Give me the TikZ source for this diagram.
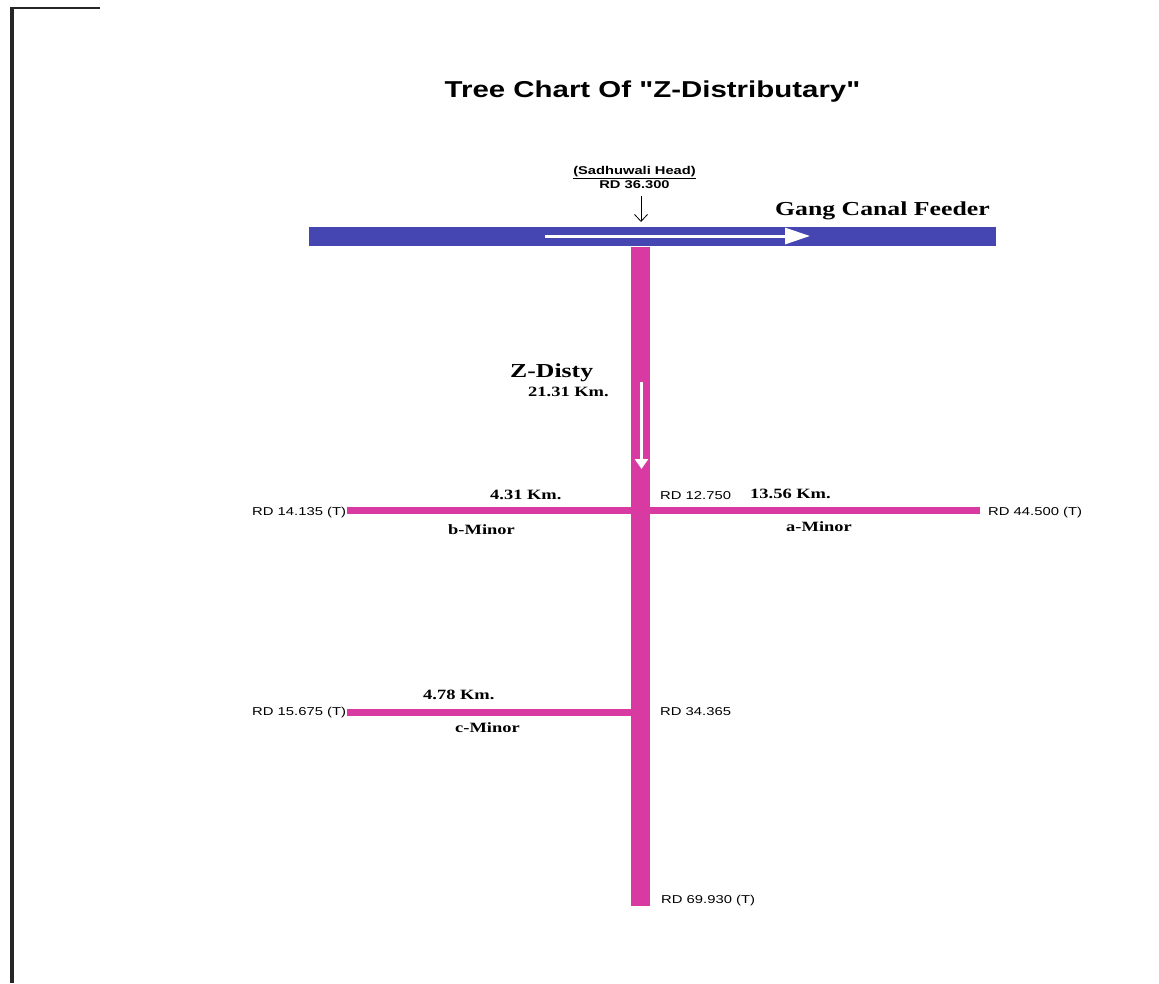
\documentclass[tikz,border=0pt]{standalone}
\usepackage{fontspec}
\usepackage{graphicx}
\setmainfont{Liberation Serif}
\setsansfont{Liberation Sans}
\usetikzlibrary{arrows.meta}

\definecolor{feederblue}{RGB}{70,70,178}
\definecolor{distypink}{RGB}{216,58,162}

% lettering on this chart is set wide
\newcommand{\widetext}[1]{\scalebox{1.3}[1]{#1}}

\tikzset{
  feeder/.style={draw=feederblue, line width=19.5pt},
  disty/.style={draw=distypink, line width=19pt},
  minor/.style={draw=distypink, line width=7pt},
  flow/.style={draw=white, line width=3pt, -{Triangle[length=25pt,width=16pt]}},
  flowdown/.style={draw=white, line width=3pt, -{Triangle[length=10pt,width=13pt]}},
  headarrow/.style={draw=black, line width=0.8pt, -{Straight Barb[length=7pt,width=13pt]}},
  rdlabel/.style={font=\sffamily\fontsize{11.4}{14}\selectfont, inner sep=0pt, anchor=base west},
  kmlabel/.style={font=\rmfamily\bfseries\fontsize{14.2}{17}\selectfont, inner sep=0pt, anchor=base west},
  biglabel/.style={font=\rmfamily\bfseries\fontsize{19.8}{24}\selectfont, inner sep=0pt, anchor=base west},
  headlabel/.style={font=\sffamily\bfseries\fontsize{11.3}{14}\selectfont, inner sep=0pt, anchor=base},
}

\begin{document}
\begin{tikzpicture}[x=1pt, y=-1pt]
  \useasboundingbox (0,0) rectangle (1159,983);
  \fill[white] (0,0) rectangle (1159,983);

  % page edge
  \draw[black!85, line width=3.5pt] (12,8) -- (12,983);
  \draw[black!85, line width=2pt] (10,8) -- (100,8);

  % title
  \node[font=\sffamily\bfseries\fontsize{23}{28}\selectfont, inner sep=0pt, anchor=base] (title) at (652.5,97)
    {\scalebox{1.28}[1]{Tree Chart Of \textquotedbl Z-Distributary\textquotedbl}};

  % main feeder
  \coordinate (feedW) at (309,236.5);
  \coordinate (feedE) at (996,236.5);
  \draw[feeder] (feedW) -- (feedE);
  \coordinate (flowS) at (545,236);
  \coordinate (flowE) at (810,236);
  \draw[flow] (flowS) -- (flowE);
  \node[biglabel] (feedname) at (775,215) {\widetext{Gang Canal Feeder}};

  % head regulator
  \node[headlabel] (headname) at (634.5,174) {\widetext{\underline{(Sadhuwali Head)}}};
  \node[headlabel] (headrd) at (634.5,188) {\widetext{RD 36.300}};
  \coordinate (headtop) at (641,196);
  \coordinate (headtip) at (641,222);
  \draw[headarrow] (headtop) -- (headtip);

  % distributary
  \coordinate (distyN) at (640.5,247);
  \coordinate (distyS) at (640.5,906);
  \draw[disty] (distyN) -- (distyS);
  \coordinate (dflowS) at (641.5,382);
  \coordinate (dflowE) at (641.5,469);
  \draw[flowdown] (dflowS) -- (dflowE);
  \node[biglabel] (distyname) at (510,377) {\widetext{Z-Disty}};
  \node[kmlabel] (distylen) at (528,396) {\widetext{21.31 Km.}};

  % a-Minor and b-Minor
  \coordinate (bW) at (347,510);
  \coordinate (aE) at (980,510);
  \draw[minor] (bW) -- (aE);
  \node[rdlabel] (bend) at (252,515) {\widetext{RD 14.135 (T)}};
  \node[kmlabel] (blen) at (490,499) {\widetext{4.31 Km.}};
  \node[kmlabel] (bname) at (448,534) {\widetext{b-Minor}};
  \node[rdlabel] (abrd) at (660,499) {\widetext{RD 12.750}};
  \node[kmlabel] (alen) at (750,498) {\widetext{13.56 Km.}};
  \node[kmlabel] (aname) at (786,531) {\widetext{a-Minor}};
  \node[rdlabel] (aend) at (988,515) {\widetext{RD 44.500 (T)}};

  % c-Minor
  \coordinate (cW) at (347,712);
  \coordinate (cE) at (632,712);
  \draw[minor] (cW) -- (cE);
  \node[rdlabel] (cend) at (252,715) {\widetext{RD 15.675 (T)}};
  \node[kmlabel] (clen) at (423,699) {\widetext{4.78 Km.}};
  \node[kmlabel] (cname) at (455,732) {\widetext{c-Minor}};
  \node[rdlabel] (crd) at (660,715) {\widetext{RD 34.365}};

  % tail
  \node[rdlabel] (tail) at (661,903) {\widetext{RD 69.930 (T)}};
\end{tikzpicture}
\end{document}
